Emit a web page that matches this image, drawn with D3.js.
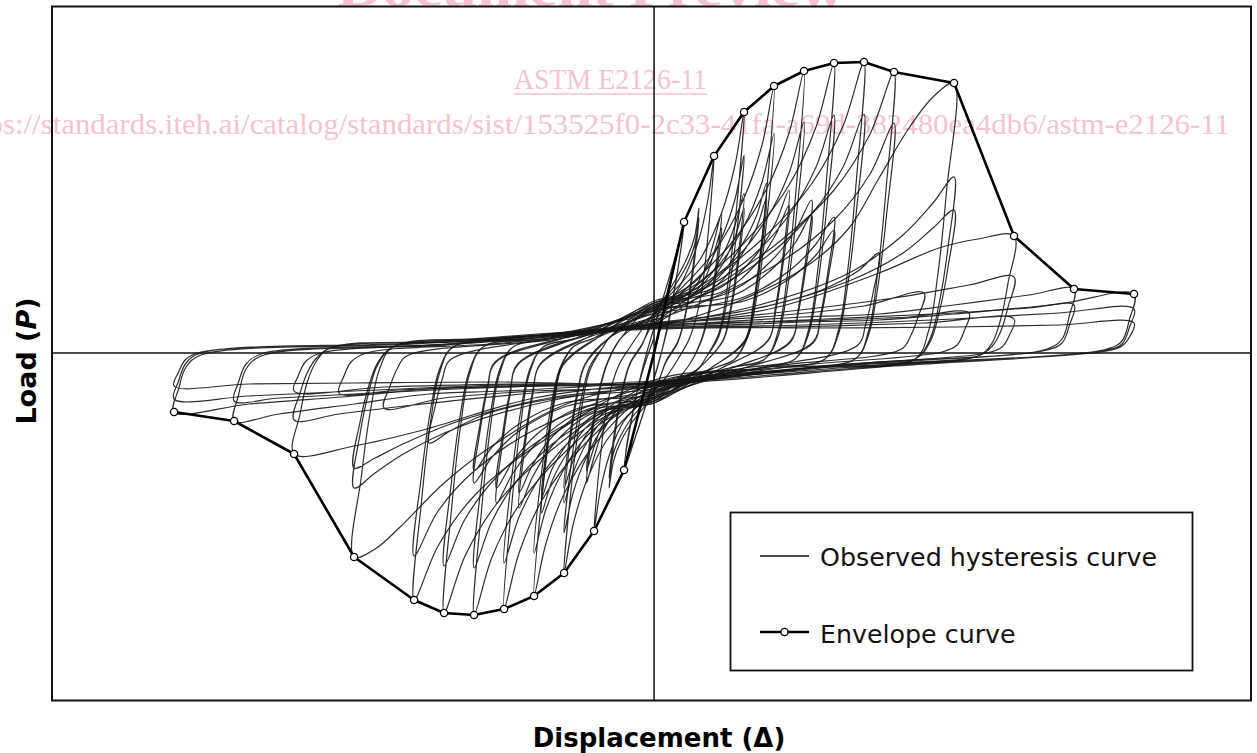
<!DOCTYPE html>
<html>
<head>
<meta charset="utf-8">
<script src="https://cdn.jsdelivr.net/npm/d3@7"></script>
<style>
  body { margin: 0; background: #fff; }
</style>
</head>
<body>
<div id="chart"></div>
<script>
// Envelope points (displacement steps, load units)
var envPosX = [0, 1, 2, 3, 4, 5, 6, 7, 8, 10, 12, 14, 16];
var envPosY = [0, 13.1, 19.7, 24.1, 26.7, 28.2, 29.0, 29.1, 28.1, 27.0, 11.7, 6.4, 5.9];
var envNegX = [0, -1, -2, -3, -4, -5, -6, -7, -8, -10, -12, -14, -16];
var envNegY = [0, -11.7, -17.8, -22.0, -24.3, -25.6, -26.2, -26.0, -24.7, -20.4, -10.1, -6.8, -5.9];

// Observed hysteresis, one flat [x,y,x,y,...] list per amplitude group
var loopA1 = [0,0, 0.5,6.2, 1,13.1, 0.8,8.5, 0.5,3.5, 0.2,-0.5, -0.2,-4.5, -0.6,-8.2, -1,-11.7, -0.8,-7.5, -0.5,-3, -0.2,0.5,
  0.2,4.5, 0.6,8.5, 0.95,12, 0.75,7.5, 0.45,2.5, 0.1,-1.5, -0.3,-5.5, -0.7,-9, -0.95,-10.5, -0.75,-6.5, -0.4,-2, 0,1.5];
var loopA2 = [0,2.5, 1,7.5, 1.5,11.4, 1.8,15.4, 2,19.7, 1.8,11.8, 1.55,5.5, 1.2,1.6, 0.8,-0.6, 0.3,-2.8, -1,-6.8, -1.5,-10.3, -1.8,-13.9, -2,-17.8, -1.8,-10.7, -1.55,-5, -1.2,-1.4, -0.8,0.6, -0.3,2.8,
  0,4, 0.75,7.5, 1.1,9.5, 1.35,11.6, 1.5,14.5, 1.3,8.7, 1.05,4, 0.8,1.2, 0.4,-0.8, 0,-4, -0.75,-7, -1.1,-8.8, -1.35,-10.8, -1.5,-13.5, -1.3,-8.1, -1.05,-3.8, -0.8,-1.1, -0.4,0.8,
  0,3.8, 0.75,7, 1.1,8.8, 1.35,10.8, 1.5,13.5, 1.3,8.1, 1.05,3.8, 0.8,1.1, 0.4,-0.9, 0,-3.8, -0.75,-6.5, -1.1,-8.2, -1.35,-10, -1.5,-12.5, -1.3,-7.5, -1.05,-3.5, -0.8,-1, -0.4,0.9, 0,3.4];
var loopA3 = [0,4.2, 1.5,9.2, 2.25,14, 2.7,18.8, 3,24.1, 2.75,14.5, 2.45,6.7, 2.15,1.9, 1.7,-0.6, 1.5,-1.5, 0,-4, -1.5,-8.4, -2.25,-12.8, -2.7,-17.2, -3,-22, -2.75,-13.2, -2.45,-6.2, -2.15,-1.8, -1.7,0.6, -1.5,1.5,
  0,4.6, 1.5,7.5, 2.25,11.5, 2.7,15.4, 3,19.8, 2.75,11.9, 2.45,5.5, 2.15,1.6, 1.7,-0.6, 1.5,-1.5, 0,-4.4, -1.5,-6.8, -2.25,-10.4, -2.7,-14, -3,-18, -2.75,-10.8, -2.45,-5, -2.15,-1.4, -1.7,0.6, -1.5,1.5,
  0,5, 1.1,5.8, 1.7,8.4, 2,11.2, 2.25,14, 2.05,8.4, 1.8,3.9, 1.55,1.1, 1.1,-1.5, 0,-4.6, -1.1,-5.4, -1.7,-7.8, -2,-10.4, -2.25,-13, -2.05,-7.8, -1.8,-3.6, -1.55,-1, -1.1,1.5,
  0,4.8, 1.1,5.3, 1.7,7.5, 2,10, 2.25,12.5, 2.05,7.5, 1.8,3.5, 1.55,1, 1.1,-1.5, 0,-4.8, -1.1,-5, -1.7,-7.1, -2,-9.4, -2.25,-11.8, -2.05,-7.1, -1.8,-3.3, -1.55,-0.9, -1.1,1.5, 0,3.8];
var loopA4 = [0,3.8, 2,10.1, 3,15.5, 3.6,20.8, 4,26.7, 3.75,16, 3.45,7.5, 3.15,2.1, 2.7,-0.6, 2,-1.5, 0,-3.6, -2,-9.2, -3,-14.1, -3.6,-19, -4,-24.3, -3.75,-14.6, -3.45,-6.8, -3.15,-1.9, -2.7,0.6, -2,1.5,
  0,4.4, 2,8.3, 3,12.7, 3.6,17.1, 4,21.9, 3.75,13.1, 3.45,6.1, 3.15,1.8, 2.7,-0.6, 2,-1.5, 0,-4.2, -2,-7.6, -3,-11.6, -3.6,-15.6, -4,-20, -3.75,-12, -3.45,-5.6, -3.15,-1.6, -2.7,0.6, -2,1.5,
  0,5, 1.5,6.6, 2.25,9.6, 2.7,12.8, 3,16, 2.8,9.6, 2.55,4.5, 2.3,1.3, 1.5,-1.5, 0,-4.8, -1.5,-6.2, -2.25,-9, -2.7,-12, -3,-15, -2.8,-9, -2.55,-4.2, -2.3,-1.2, -1.5,1.5,
  0,4.6, 1.5,6, 2.25,8.7, 2.7,11.6, 3,14.5, 2.8,8.7, 2.55,4.1, 2.3,1.2, 1.5,-1.5, 0,-5, -1.5,-5.6, -2.25,-8.1, -2.7,-10.8, -3,-13.5, -2.8,-8.1, -2.55,-3.8, -2.3,-1.1, -1.5,1.5, 0,3.6];
var loopA5 = [0,3.6, 2.5,10.7, 3.75,16.4, 4.5,22, 5,28.2, 4.75,16.9, 4.45,7.9, 4.15,2.3, 3.7,-0.6, 2.5,-1.5, 0,-3.5, -2.5,-9.7, -3.75,-14.8, -4.5,-20, -5,-25.6, -4.75,-15.4, -4.45,-7.2, -4.15,-2, -3.7,0.6, -2.5,1.5,
  0,4.2, 2.5,8.8, 3.75,13.4, 4.5,18, 5,23.1, 4.75,13.9, 4.45,6.5, 4.15,1.8, 3.7,-0.6, 2.5,-1.5, 0,-4, -2.5,-8, -3.75,-12.2, -4.5,-16.4, -5,-21, -4.75,-12.6, -4.45,-5.9, -4.15,-1.7, -3.7,0.6, -2.5,1.5,
  0,4.8, 1.9,6.9, 2.8,10.2, 3.4,13.6, 3.75,17, 3.55,10.2, 3.3,4.8, 3.05,1.4, 1.9,-1.5, 0,-4.6, -1.9,-6.5, -2.8,-9.6, -3.4,-12.8, -3.75,-16, -3.55,-9.6, -3.3,-4.5, -3.05,-1.3, -1.9,1.5,
  0,5.2, 1.9,6.4, 2.8,9.3, 3.4,12.4, 3.75,15.5, 3.55,9.3, 3.3,4.3, 3.05,1.2, 1.9,-1.5, 0,-5, -1.9,-6, -2.8,-8.7, -3.4,-11.6, -3.75,-14.5, -3.55,-8.7, -3.3,-4.1, -3.05,-1.2, -1.9,1.5, 0,3.4];
var loopA6 = [0,3.3, 3,11, 4.5,16.8, 5.4,22.6, 6,29, 5.75,17.4, 5.45,8.1, 5.15,2.3, 4.7,-0.6, 3,-1.5, 0,-3.2, -3,-10, -4.5,-15.2, -5.4,-20.4, -6,-26.2, -5.75,-15.7, -5.45,-7.3, -5.15,-2.1, -4.7,0.6, -3,1.5,
  0,4, 3,9, 4.5,13.8, 5.4,18.6, 6,23.8, 5.75,14.3, 5.45,6.7, 5.15,1.9, 4.7,-0.6, 3,-1.5, 0,-3.8, -3,-8.2, -4.5,-12.5, -5.4,-16.8, -6,-21.5, -5.75,-12.9, -5.45,-6, -5.15,-1.7, -4.7,0.6, -3,1.5,
  0,4.5, 2.25,6.6, 3.4,9.8, 4.05,13, 4.5,16.3, 4.3,9.8, 4.05,4.6, 3.8,1.3, 2.25,-1.5, 0,-4.4, -2.25,-6.3, -3.4,-9.3, -4.05,-12.4, -4.5,-15.5, -4.3,-9.3, -4.05,-4.3, -3.8,-1.2, -2.25,1.5,
  0,5, 2.25,6.1, 3.4,8.9, 4.05,11.8, 4.5,14.8, 4.3,8.9, 4.05,4.1, 3.8,1.2, 2.25,-1.5, 0,-4.8, -2.25,-5.8, -3.4,-8.4, -4.05,-11.2, -4.5,-14, -4.3,-8.4, -4.05,-3.9, -3.8,-1.1, -2.25,1.5, 0,3.2];
var loopA7 = [0,3, 3.5,11.1, 5.25,16.9, 6.3,22.7, 7,29.1, 6.75,17.5, 6.45,8.1, 6.15,2.3, 5.7,-0.6, 3.5,-1.5, 0,-3, -3.5,-9.9, -5.25,-15.1, -6.3,-20.3, -7,-26, -6.75,-15.6, -6.45,-7.3, -6.15,-2.1, -5.7,0.6, -3.5,1.5,
  0,3.6, 3.5,9.1, 5.25,13.9, 6.3,18.6, 7,23.9, 6.75,14.3, 6.45,6.7, 6.15,1.9, 5.7,-0.6, 3.5,-1.5, 0,-3.5, -3.5,-8.1, -5.25,-12.4, -6.3,-16.6, -7,-21.3, -6.75,-12.8, -6.45,-6, -6.15,-1.7, -5.7,0.6, -3.5,1.5,
  0,4.2, 2.6,6.2, 3.9,9.2, 4.7,12.2, 5.25,15.3, 5.05,9.2, 4.8,4.3, 4.55,1.2, 2.6,-1.5, 0,-4, -2.6,-6.1, -3.9,-9, -4.7,-12, -5.25,-15, -5.05,-9, -4.8,-4.2, -4.55,-1.2, -2.6,1.5,
  0,4.6, 2.6,5.7, 3.9,8.3, 4.7,11, 5.25,13.8, 5.05,8.3, 4.8,3.9, 4.55,1.1, 2.6,-1.5, 0,-4.5, -2.6,-5.6, -3.9,-8.1, -4.7,-10.8, -5.25,-13.5, -5.05,-8.1, -4.8,-3.8, -4.55,-1.1, -2.6,1.5, 0,2.8];
var loopA8 = [0,2.8, 4,10.7, 6,16.3, 7.2,21.9, 8,28.1, 7.75,16.9, 7.45,7.9, 7.15,2.2, 6.7,-0.6, 4,-1.5, 0,-2.7, -4,-9.4, -6,-14.3, -7.2,-19.3, -8,-24.7, -7.75,-14.8, -7.45,-6.9, -7.15,-2, -6.7,0.6, -4,1.5,
  0,3.3, 4,8.7, 6,13.3, 7.2,17.9, 8,23, 7.75,13.8, 7.45,6.4, 7.15,1.8, 6.7,-0.6, 4,-1.5, 0,-3.2, -4,-7.7, -6,-11.8, -7.2,-15.8, -8,-20.3, -7.75,-12.2, -7.45,-5.7, -7.15,-1.6, -6.7,0.6, -4,1.5,
  0,3.9, 3,5.6, 4.5,8.2, 5.4,10.9, 6,13.6, 5.8,8.2, 5.55,3.8, 5.3,1.1, 3,-1.5, 0,-3.8, -3,-5.4, -4.5,-7.8, -5.4,-10.4, -6,-13, -5.8,-7.8, -5.55,-3.6, -5.3,-1, -3,1.5,
  0,4.3, 3,5.2, 4.5,7.4, 5.4,9.8, 6,12.3, 5.8,7.4, 5.55,3.4, 5.3,1, 3,-1.5, 0,-4.2, -3,-5, -4.5,-7.1, -5.4,-9.4, -6,-11.8, -5.8,-7.1, -5.55,-3.3, -5.3,-0.9, -3,1.5, 0,2.6];
var loopA10 = [0,2.5, 2.5,4.8, 5,8.5, 6.5,12.5, 7.5,17.5, 8.5,22.5, 9.3,25.6, 10,27, 9.75,16.2, 9.45,7.6, 9.15,2.2, 8.7,-0.6, 5,-1.5, 0,-3, -3,-5.2, -5.5,-9.5, -7,-13, -8.5,-17.5, -9.3,-19.6, -10,-20.4, -9.75,-12.2, -9.45,-5.7, -9.15,-1.6, -8.7,0.6, -5,1.5, 0,2.8,
  3.5,4.8, 6.5,8, 8.3,11.8, 9.3,15, 10,17.6, 9.8,10.6, 9.5,4.9, 9.2,1.4, 8.7,-0.6, 5,-1.5, 0,-3.3, -3.5,-4.8, -6.5,-7.4, -8.3,-10, -9.3,-12, -10,-13.5, -9.8,-8.1, -9.5,-3.8, -9.2,-1.1, -8.7,0.6, -5,1.5, 0,3,
  3.5,4.5, 6.5,7.2, 8.3,10, 9.3,12.5, 10,14.3, 9.8,8.6, 9.5,4, 9.2,1.1, 8.7,-0.6, 5,-1.5, 0,-3.4, -3.5,-4.5, -6.5,-6.8, -8.3,-9, -9.3,-10.5, -10,-11.5, -9.8,-6.9, -9.5,-3.2, -9.2,-0.9, -8.7,0.6, -5,1.5, 0,2.9,
  3,4.2, 5.5,6.2, 6.8,8.2, 7.5,10, 7.3,6, 7.05,2.8, 6.8,0.8, 3.5,-1.5, 0,-3.6, -3,-4.4, -5.5,-6, -6.8,-7.8, -7.5,-9, -7.3,-5.4, -7.05,-2.5, -6.8,-0.7, -3.5,1.4, 0,2.8];
var loopA12 = [0,2.8, 4,4.5, 7.5,8, 9.5,10.5, 10.8,11.4, 12,11.7, 11.8,7, 11.55,3.3, 11.25,0.9, 10.8,-0.3, 6,-1.3, 0,-3, -4,-4.5, -7.7,-7.7, -10,-9.3, -12,-10.1, -11.8,-6.1, -11.55,-2.8, -11.25,-0.8, -10.8,0.5, -6,1.2, 0,2.8,
  4,4, 8,5.5, 10.5,6.8, 12,7.6, 11.8,4.6, 11.55,2.1, 11.25,0.6, 10.8,-0.3, 6,-1.3, 0,-3.2, -4,-4, -8,-5.2, -10.5,-6.1, -12,-6.7, -11.8,-4, -11.55,-1.9, -11.25,-0.5, -10.8,0.5, -6,1.2, 0,2.9,
  4,3.7, 7,4.7, 9,6, 8.8,3.6, 8.55,1.7, 8.25,0.4, 4,-1.3, 0,-3.3, -4,-3.8, -7,-4.5, -9,-5.5, -8.8,-3.3, -8.55,-1.5, -8.25,-0.3, -4,1.2, 0,3];
var loopA14 = [0,2.7, 5,3.6, 7.5,3.9, 10,4.8, 12.5,5.8, 14,6.4, 13.85,3.8, 13.6,1.4, 13.1,0.4, 7,-1, 0,-2.9, -5,-3.8, -7.5,-4.1, -10,-5.1, -12.5,-6.1, -14,-6.8, -13.85,-4.2, -13.6,-1.6, -13.1,-0.3, -7,0.8, 0,2.6,
  5,3.3, 10,4, 12.5,4.5, 14,4.8, 13.85,2.8, 13.6,1, 13.1,0.3, 7,-1.1, 0,-3, -5,-3.4, -10,-4.1, -12.5,-4.5, -14,-4.8, -13.85,-2.9, -13.6,-1.1, -13.1,-0.1, -7,0.9, 0,2.8,
  5,3.2, 8.5,3.6, 10.5,4, 10.35,2.3, 10.1,0.8, 9.6,0.1, 5,-1.2, 0,-3.1, -5,-3.3, -8.5,-3.7, -10.5,-4, -10.35,-2.4, -10.1,-0.9, -9.6,0, -5,1, 0,2.7];
var loopA16 = [0,2.5, 5,3.1, 7.5,3.3, 10,3.9, 13.5,4.9, 16,5.9, 15.85,3.4, 15.6,1.2, 15.1,0.4, 8,-1.1, 0,-2.8, -5,-3.4, -7.5,-3.6, -10,-4.3, -13.5,-5.1, -16,-5.9, -15.85,-3.6, -15.6,-1.4, -15.1,-0.2, -8,0.9, 0,2.5,
  5,2.8, 10,3.4, 13.5,4, 16,4.4, 15.85,2.6, 15.6,0.9, 15.1,0.3, 8,-1.2, 0,-3, -5,-3.2, -10,-3.8, -13.5,-4.3, -16,-4.6, -15.85,-2.8, -15.6,-1, -15.1,0, -8,1, 0,2.6,
  5,2.5, 10,2.6, 13.5,2.8, 16,3, 15.85,1.6, 15.6,0.7, 15.1,0.2, 8,-1.3, 0,-3.1, -5,-2.9, -10,-3, -13.5,-3.1, -16,-3.3, -15.85,-1.9, -15.6,-0.6, -15.1,0.1, -8,0.9, 0,2.4,
  4.5,2.6, 9,3, 12,3.4, 11.85,1.8, 11.6,0.6, 11.1,0, 6,-1.2, 0,-3, -4.5,-3.1, -9,-3.4, -12,-3.8, -11.85,-2.2, -11.6,-0.8, -11.1,0, -6,1, 0,2.5];

var loopGroups = [loopA1, loopA2, loopA3, loopA4, loopA5, loopA6, loopA7, loopA8, loopA10, loopA12, loopA14, loopA16];

var legendLabels = ["Observed hysteresis curve", "Envelope curve"];

// chart set up
var svgWidth = 1257;
var svgHeight = 753;

var plot = { left: 52, right: 1251, top: 6.5, bottom: 700.5 };

var svg = d3.select("#chart")
  .append("svg")
  .attr("width", svgWidth)
  .attr("height", svgHeight)
  .style("font-family", "'DejaVu Sans', Verdana, sans-serif");

var x = d3.scaleLinear().domain([-20.07, 19.9]).range([plot.left, plot.right]);
var y = d3.scaleLinear().domain([-34.75, 34.65]).range([plot.bottom, plot.top]);

function toPairs(flat) {
  var out = [];
  for (var i = 0; i < flat.length; i += 2) out.push([flat[i], flat[i + 1]]);
  return out;
}

// watermark (behind everything)
var wm = svg.append("g")
  .attr("fill", "#f5c3ce")
  .style("font-family", "'Liberation Serif', 'Times New Roman', serif");

wm.append("text")
  .attr("x", 337).attr("y", 6)
  .attr("font-size", 50).attr("font-weight", "bold")
  .attr("textLength", 508).attr("lengthAdjust", "spacingAndGlyphs")
  .text("Document Preview");

wm.append("text")
  .attr("x", 514).attr("y", 89)
  .attr("font-size", 30)
  .attr("textLength", 193).attr("lengthAdjust", "spacingAndGlyphs")
  .text("ASTM E2126-11");
wm.append("line")
  .attr("x1", 514).attr("x2", 707).attr("y1", 94).attr("y2", 94)
  .attr("stroke", "#f5c3ce").attr("stroke-width", 1.5);

wm.append("text")
  .attr("x", -45).attr("y", 134)
  .attr("font-size", 29)
  .attr("textLength", 1275).attr("lengthAdjust", "spacingAndGlyphs")
  .text("https://standards.iteh.ai/catalog/standards/sist/153525f0-2c33-41fa-a69d-382480ea4db6/astm-e2126-11");

// clip to plot box
svg.append("clipPath").attr("id", "plotClip")
  .append("rect")
  .attr("x", plot.left).attr("y", plot.top)
  .attr("width", plot.right - plot.left).attr("height", plot.bottom - plot.top);

var chartGroup = svg.append("g").attr("clip-path", "url(#plotClip)");

// zero axes
chartGroup.append("line")
  .attr("x1", x(0)).attr("x2", x(0))
  .attr("y1", plot.top).attr("y2", plot.bottom)
  .attr("stroke", "#111").attr("stroke-width", 1.5);
chartGroup.append("line")
  .attr("x1", plot.left).attr("x2", plot.right)
  .attr("y1", y(0)).attr("y2", y(0))
  .attr("stroke", "#111").attr("stroke-width", 1.5);

// hysteresis curves (smoothed through the read points)
var loopLine = d3.line()
  .x(d => x(d[0]))
  .y(d => y(d[1]))
  .curve(d3.curveCatmullRom.alpha(0.5));

chartGroup.selectAll(".loop")
  .data(loopGroups)
  .enter()
  .append("path")
  .attr("class", "loop")
  .attr("d", d => loopLine(toPairs(d)))
  .attr("fill", "none")
  .attr("stroke", "#161616")
  .attr("stroke-width", 1.2)
  .attr("stroke-linejoin", "round")
  .attr("stroke-opacity", 0.9);

// envelope curve
var envPos = envPosX.map((v, i) => [v, envPosY[i]]);
var envNeg = envNegX.map((v, i) => [v, envNegY[i]]);

var envLine = d3.line().x(d => x(d[0])).y(d => y(d[1]));

[envPos, envNeg].forEach(function(env) {
  chartGroup.append("path")
    .attr("d", envLine(env))
    .attr("fill", "none")
    .attr("stroke", "#000")
    .attr("stroke-width", 2.6)
    .attr("stroke-linejoin", "round");

  chartGroup.selectAll(null)
    .data(env.filter(d => d[0] !== 0))
    .enter()
    .append("circle")
    .attr("cx", d => x(d[0]))
    .attr("cy", d => y(d[1]))
    .attr("r", 3.6)
    .attr("fill", "#fff")
    .attr("stroke", "#000")
    .attr("stroke-width", 1.3);
});

// frame
svg.append("rect")
  .attr("x", plot.left).attr("y", plot.top)
  .attr("width", plot.right - plot.left).attr("height", plot.bottom - plot.top)
  .attr("fill", "none").attr("stroke", "#111").attr("stroke-width", 2);

// legend
var legend = svg.append("g");
legend.append("rect")
  .attr("x", 730.5).attr("y", 512.5)
  .attr("width", 462).attr("height", 158)
  .attr("fill", "#fff").attr("stroke", "#111").attr("stroke-width", 1.8);

legend.append("line")
  .attr("x1", 760).attr("x2", 809).attr("y1", 556).attr("y2", 556)
  .attr("stroke", "#111").attr("stroke-width", 1.6);
legend.append("text")
  .attr("x", 820).attr("y", 566)
  .attr("font-size", 25.3).attr("fill", "#111")
  .text(legendLabels[0]);

legend.append("line")
  .attr("x1", 760).attr("x2", 809).attr("y1", 632).attr("y2", 632)
  .attr("stroke", "#000").attr("stroke-width", 2.6);
legend.append("circle")
  .attr("cx", 784.5).attr("cy", 632).attr("r", 3.6)
  .attr("fill", "#fff").attr("stroke", "#000").attr("stroke-width", 1.3);
legend.append("text")
  .attr("x", 820).attr("y", 643)
  .attr("font-size", 25.3).attr("fill", "#111")
  .text(legendLabels[1]);

// axis titles
svg.append("text")
  .attr("x", 659).attr("y", 747)
  .attr("text-anchor", "middle")
  .attr("font-size", 26).attr("font-weight", "bold")
  .attr("fill", "#000")
  .text("Displacement (\u0394)");

var yTitle = svg.append("text")
  .attr("transform", "translate(36, 361) rotate(-90)")
  .attr("text-anchor", "middle")
  .attr("font-size", 27).attr("font-weight", "bold")
  .attr("fill", "#000");
yTitle.append("tspan").text("Load (");
yTitle.append("tspan").attr("font-style", "italic").text("P");
yTitle.append("tspan").text(")");
</script>
</body>
</html>
